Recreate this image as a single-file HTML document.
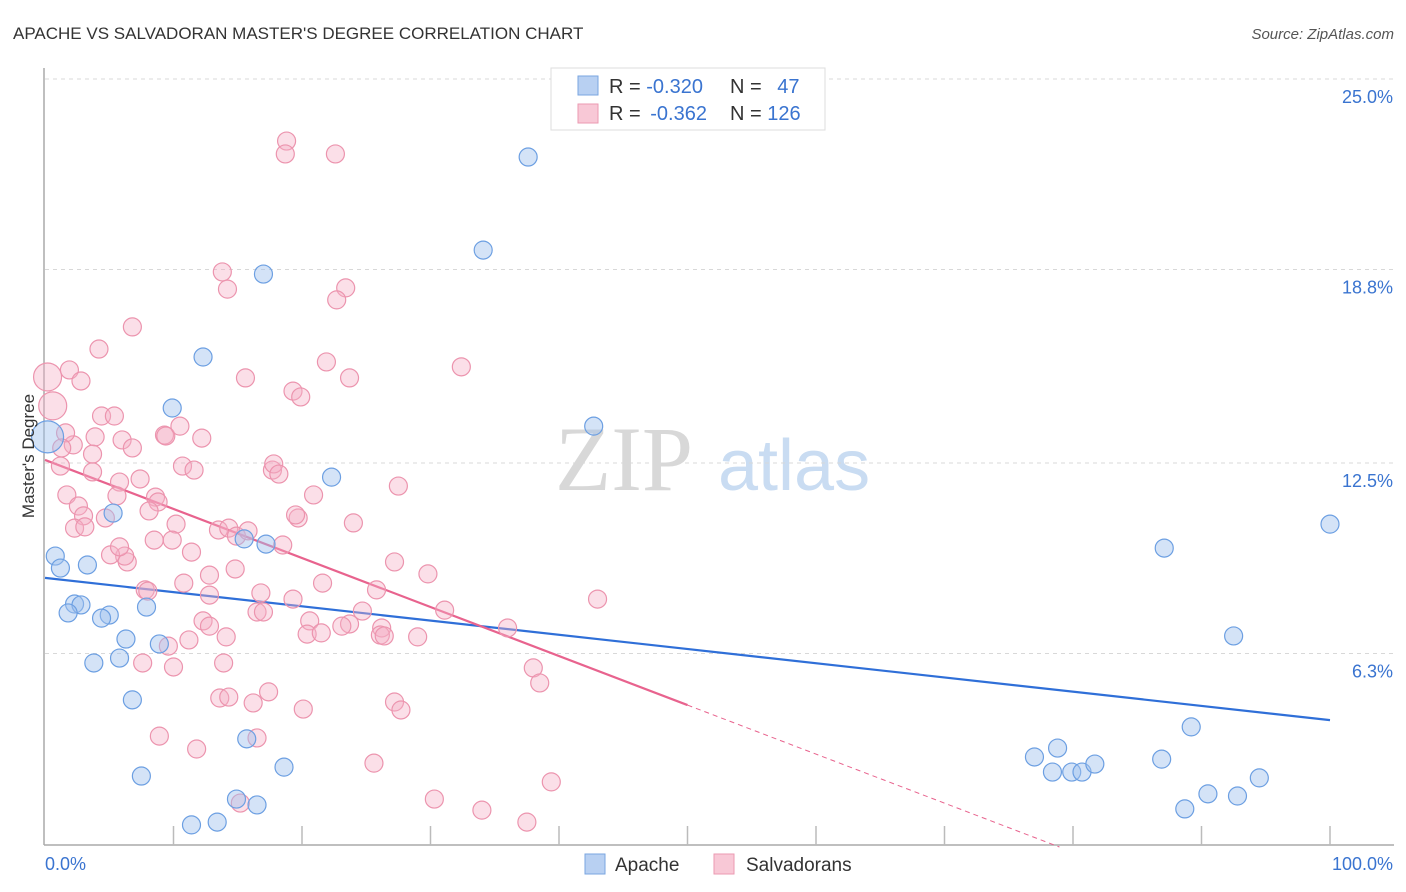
<!DOCTYPE html>
<html><head><meta charset="utf-8"><style>
body{margin:0;background:#fff;font-family:"Liberation Sans",sans-serif;}
svg{display:block}
</style></head><body>
<svg id="chart" width="1406" height="892">
<text x="13" y="39" font-size="17" fill="#333">APACHE VS SALVADORAN MASTER'S DEGREE CORRELATION CHART</text>
<text x="1394" y="39" font-size="15" fill="#555" font-style="italic" text-anchor="end">Source: ZipAtlas.com</text>
<g>
<text x="555" y="490" font-size="92" fill="#d8d8d8" font-family="Liberation Serif,serif">ZIP</text>
<text x="718" y="490" font-size="72" fill="#c9dcf2">atlas</text>
</g>
<g id="grid"></g>
<g id="axes"></g>
<g id="trends"></g>
<g id="pts"></g>
<g>
<rect x="551" y="68" width="274" height="62" fill="#fff" stroke="#ddd"/>
<rect x="578" y="76" width="20" height="19" fill="#b8d0f2" stroke="#7aa6e0"/>
<rect x="578" y="104" width="20" height="19" fill="#f8c8d6" stroke="#eb9ab2"/>
<text x="609" y="93" font-size="20" fill="#333">R = <tspan fill="#3a74d0">-0.320</tspan></text>
<text x="730" y="93" font-size="20" fill="#333">N = <tspan fill="#3a74d0" dx="10">47</tspan></text>
<text x="609" y="120" font-size="20" fill="#333">R = <tspan fill="#3a74d0" dx="4">-0.362</tspan></text>
<text x="730" y="120" font-size="20" fill="#333">N = <tspan fill="#3a74d0">126</tspan></text>
</g>
<g>
<rect x="585" y="854" width="20" height="20" fill="#b8d0f2" stroke="#7aa6e0"/>
<text x="615" y="871" font-size="19" fill="#333">Apache</text>
<rect x="714" y="854" width="20" height="20" fill="#f8c8d6" stroke="#eb9ab2"/>
<text x="746" y="871" font-size="19" fill="#333">Salvadorans</text>
</g>
<text transform="translate(34,456) rotate(-90)" font-size="17" fill="#333" text-anchor="middle">Master's Degree</text>
</svg>
<script>
const apacheX=[37.6,34.1,17.0,12.3,9.9,42.7,22.3,5.3,15.5,17.2,0.8,1.2,3.3,2.3,2.8,1.8,5.0,4.4,7.9,6.3,8.9,3.8,5.8,6.8,15.7,7.5,18.6,14.9,16.5,11.4,13.4,100,87.1,92.5,89.2,77.0,78.8,78.4,79.9,80.7,81.7,86.9,88.7,90.5,92.8,94.5,0.2];
const apacheY=[22.46,19.43,18.65,15.95,14.29,13.70,12.04,10.87,10.03,9.86,9.47,9.08,9.18,7.91,7.88,7.62,7.55,7.45,7.81,6.77,6.61,5.99,6.15,4.79,3.52,2.31,2.60,1.56,1.37,0.72,0.81,10.51,9.73,6.87,3.91,2.93,3.22,2.44,2.44,2.44,2.70,2.86,1.24,1.73,1.66,2.25,13.35];
const salvX=[18.8,18.7,22.6,13.8,23.4,14.2,22.7,6.8,4.2,32.4,21.9,1.9,0.2,2.8,15.6,23.7,19.3,19.9,0.6,4.4,5.4,9.3,9.4,10.5,12.2,3.9,2.2,6.0,1.6,1.3,1.2,3.7,6.8,3.7,7.4,5.8,1.7,2.6,5.6,8.6,8.8,10.7,11.6,17.7,17.8,18.2,20.9,27.5,24.0,8.1,3.0,4.7,10.2,2.3,3.1,13.5,14.3,14.9,15.8,18.5,8.5,9.9,6.4,6.2,5.1,5.8,11.4,12.8,14.8,19.7,19.5,27.2,29.8,10.8,7.8,8.0,12.8,16.8,21.6,25.8,19.3,43.0,24.7,16.5,17.0,12.3,12.8,20.6,23.7,23.1,31.1,26.2,36.0,14.1,20.4,21.5,26.1,26.4,29.0,9.6,11.2,7.6,10.0,13.9,38.0,38.5,17.4,13.6,14.3,16.2,27.2,27.7,20.1,8.9,16.5,11.8,25.6,39.4,30.3,34.0,37.5,15.2];
const salvY=[22.98,22.56,22.56,18.72,18.20,18.16,17.81,16.93,16.21,15.63,15.79,15.53,15.30,15.17,15.27,15.27,14.84,14.65,14.36,14.03,14.03,13.41,13.38,13.70,13.31,13.35,13.09,13.25,13.48,12.99,12.40,12.79,12.99,12.21,11.98,11.88,11.46,11.10,11.43,11.39,11.23,12.40,12.27,12.27,12.47,12.14,11.46,11.75,10.55,10.94,10.78,10.71,10.51,10.38,10.42,10.32,10.38,10.12,10.29,9.83,9.99,9.99,9.28,9.47,9.51,9.77,9.60,8.85,9.05,10.71,10.81,9.28,8.89,8.59,8.37,8.33,8.20,8.27,8.59,8.37,8.07,8.07,7.68,7.65,7.65,7.36,7.19,7.36,7.26,7.19,7.71,7.13,7.13,6.84,6.93,6.97,6.90,6.87,6.84,6.54,6.74,5.99,5.86,5.99,5.83,5.34,5.05,4.85,4.88,4.69,4.72,4.46,4.49,3.61,3.55,3.19,2.73,2.12,1.56,1.20,0.81,1.43];
const yTicks=[25.0,18.8,12.5,6.3];
const yTickLabels=["25.0%","18.8%","12.5%","6.3%"];
const apacheTrend=[8.76,4.13];
const salvTrend=[12.6,4.62];
const salvTrendEndX=50;

const NS="http://www.w3.org/2000/svg";
const X0=45,X1=1330,Y0=847,PX_PER=30.72;
function sx(v){return X0+(X1-X0)*v/100;}
function sy(v){return Y0-v*PX_PER;}
function mk(tag,attrs,parent){const e=document.createElementNS(NS,tag);for(const k in attrs)e.setAttribute(k,attrs[k]);parent.appendChild(e);return e;}
const grid=document.getElementById('grid'),axes=document.getElementById('axes'),trends=document.getElementById('trends'),pts=document.getElementById('pts');
yTicks.forEach((t,i)=>{
  const l=mk('line',{x1:45,x2:1394,y1:sy(t),y2:sy(t),stroke:'#d8d8d8','stroke-dasharray':'4,4'},grid);
  
  
  const tx=mk('text',{x:1393,y:sy(t)+24,'font-size':18,fill:'#3a74d0','text-anchor':'end'},axes);
  tx.textContent=yTickLabels[i];
  
  
});
let ax=mk('line',{x1:44,x2:44,y1:68,y2:845,stroke:'#aaa','stroke-width':1.5},axes);


ax=mk('line',{x1:44,x2:1394,y1:845,y2:845,stroke:'#aaa','stroke-width':1.5},axes);


for(let i=1;i<=10;i++){
  const t=mk('line',{x1:sx(i*10),x2:sx(i*10),y1:826,y2:845,stroke:'#bbb','stroke-width':1.5},axes);
  
  
}
let xl=mk('text',{x:45,y:870,'font-size':18,fill:'#3a74d0'},axes);xl.textContent='0.0%';


xl=mk('text',{x:1393,y:870,'font-size':18,fill:'#3a74d0','text-anchor':'end'},axes);xl.textContent='100.0%';



salvX.forEach((x,i)=>{
  const big=(x<1&&salvY[i]>14);
  const c=mk('circle',{cx:sx(x),cy:sy(salvY[i]),r:big?14:9,fill:'rgba(246,176,198,0.4)',stroke:'#ec94ae','stroke-width':1.2},pts);
  
  
});
apacheX.forEach((x,i)=>{
  const big=(x<0.5&&apacheY[i]>13);
  const c=mk('circle',{cx:sx(x),cy:sy(apacheY[i]),r:big?16:9,fill:'rgba(160,192,238,0.45)',stroke:'#6c9fe2','stroke-width':1.2},pts);
  
  
});
let ln=mk('line',{x1:sx(0),y1:sy(apacheTrend[0]),x2:sx(100),y2:sy(apacheTrend[1]),stroke:'#2f6fd8','stroke-width':2.2},trends);


const slope=(salvTrend[1]-salvTrend[0])/salvTrendEndX;
ln=mk('line',{x1:sx(0),y1:sy(salvTrend[0]),x2:sx(salvTrendEndX),y2:sy(salvTrend[1]),stroke:'#e8638e','stroke-width':2.2},trends);


const xz=-salvTrend[0]/slope;
ln=mk('line',{x1:sx(salvTrendEndX),y1:sy(salvTrend[1]),x2:sx(xz),y2:sy(0),stroke:'#e8638e','stroke-width':1,'stroke-dasharray':'5,4'},trends);


</script>
</body></html>
